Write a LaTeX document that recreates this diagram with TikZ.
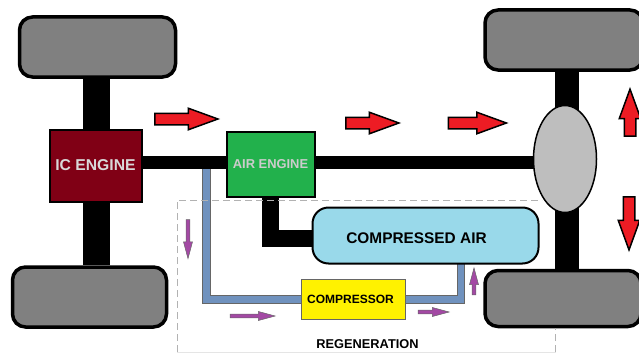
\documentclass[tikz,border=0pt]{standalone}
\usepackage{fontspec}
\setmainfont{Liberation Sans}
\usetikzlibrary{arrows,positioning,backgrounds,shapes.geometric,shapes.arrows}
\definecolor{wheelgray}{RGB}{128,128,128}
\definecolor{hubgray}{RGB}{190,190,190}
\definecolor{icred}{RGB}{128,0,21}
\definecolor{airgreen}{RGB}{34,177,76}
\definecolor{tankblue}{RGB}{153,217,234}
\definecolor{pipeblue}{RGB}{112,146,190}
\definecolor{flowred}{RGB}{237,28,36}
\definecolor{flowpurple}{RGB}{163,73,164}

\begin{document}
\begin{tikzpicture}[
    node distance=100pt,
    font=\bfseries,
    wheel/.style={
		rectangle,
		rounded corners=13pt,
		draw=black,
		line width=3.5pt,
		fill=wheelgray,
		minimum width=#1,
		minimum height=60pt
	},
	engine/.style={
		rectangle,
		draw=black,
		line width=2pt,
		text centered
	},
	tank/.style={
		rectangle,
		rounded corners=16pt,
		draw=black,
		line width=2pt,
		fill=tankblue,
		minimum width=226pt,
		minimum height=56pt
	},
	hub/.style={
		ellipse,
		draw=black,
		line width=1.5pt,
		fill=hubgray,
		minimum width=63pt,
		minimum height=107pt
	},
	redarrow/.style={
		single arrow,
		draw=black,
		line width=1.5pt,
		fill=flowred,
		inner sep=5pt,
		minimum width=20pt,
		single arrow head extend=5pt,
		single arrow tip angle=40
	},
	purplearrow/.style={
		single arrow,
		draw=black!60,
		line width=0.5pt,
		fill=flowpurple,
		inner sep=1.7pt,
		minimum width=9pt,
		single arrow head extend=2.5pt,
		single arrow tip angle=30
	},
	shaft/.style={
		draw=black,
		line width=#1
	},
	pipe/.style={
		draw=black!60,
		line width=1pt,
		double=pipeblue,
		double distance=6.5pt
	},
	regenbox/.style={
		draw=black!30,
		dash pattern=on 7pt off 4pt,
		line width=0.6pt
	}
  ]

 \useasboundingbox (0pt,0pt) rectangle (639pt,-353pt);

 % the engines
 \node [engine, fill=icred, text=black!15, font=\bfseries\fontsize{15.7}{18}\selectfont, minimum width=92pt, minimum height=72pt] (icengine) at (95.5pt,-165.5pt) {IC ENGINE};
 \node [engine, right of=icengine, xshift=75pt, yshift=1.5pt, fill=airgreen, text=black!20, font=\bfseries\fontsize{12.9}{15}\selectfont, minimum width=88pt, minimum height=65pt] (airengine) {AIR ENGINE};
 \node [hub, right of=airengine, xshift=194.5pt, yshift=5pt] (differential) {};

 % the wheels
 \node [wheel=156pt, above of=icengine, xshift=2pt, yshift=18.5pt] (wheelfl) {};
 \node [wheel=154pt, below of=icengine, xshift=-6pt, yshift=-31.5pt] (wheelrl) {};
 \node [wheel=158pt, above of=differential, xshift=-1pt, yshift=19pt] (wheelfr) {};
 \node [wheel=156pt, below of=differential, xshift=-2pt, yshift=-39.5pt, minimum height=56pt] (wheelrr) {};

 % the regeneration loop
 \node [tank, below of=airengine, xshift=155pt, yshift=28.5pt] (airtank) {};
 \node [right of=airtank, xshift=-109pt, yshift=-3pt, font=\bfseries\fontsize{15.4}{18}\selectfont] (tanklabel) {COMPRESSED AIR};
 \node [rectangle, draw=black!60, line width=1pt, fill=yellow, below of=airtank, xshift=-72pt, yshift=36pt, minimum width=104pt, minimum height=40pt] (compressor) {};
 \node [right of=compressor, xshift=-103pt, font=\bfseries\fontsize{12}{14}\selectfont] (compressorlabel) {COMPRESSOR};
 \node [below of=compressor, xshift=14pt, yshift=55.5pt, font=\bfseries\fontsize{12.8}{15}\selectfont] (regentext) {REGENERATION};

 % // The shafts
 \coordinate (axleleft) at (96.5pt,-165.5pt);
 \coordinate (axleright) at (567pt,-159pt);
 \coordinate (axlemain) at (142pt,-162.5pt);
 \coordinate (pipetop) at (206.5pt,-169pt);
 \coordinate (pipeoutlet) at (461pt,-263pt);
 \coordinate (tankbend) at (270.5pt,-238pt);
 \begin{scope}[on background layer]
 \draw [shaft=27pt] (axleleft |- wheelfl.south) -- (axleleft |- wheelrl.north);
 \draw [shaft=24pt] (axleright |- wheelfr.south) -- (axleright |- wheelrr.north);
 \draw [shaft=13pt] (axlemain) -- (axlemain -| differential.center);
 \draw [shaft=17pt] (airengine.south) -- (tankbend) -- (tankbend -| airtank.west);
 \draw [pipe] (pipetop) |- (compressor.west);
 \draw [pipe] (compressor.east) -| (pipeoutlet);
 \end{scope}

 % red arrows
 \node [redarrow, minimum height=63pt, right of=icengine, xshift=-17pt, yshift=46.5pt] (flow1) {};
 \node [redarrow, minimum height=53pt, right of=airengine, xshift=-6pt, yshift=41pt] (flow2) {};
 \node [redarrow, minimum height=58pt, right of=flow2, xshift=5pt] (flow3) {};
 \node [redarrow, minimum height=47pt, shape border rotate=90, right of=differential, xshift=-35pt, yshift=38.5pt] (flowup) {};
 \node [redarrow, minimum height=53pt, shape border rotate=270, right of=differential, xshift=-36pt, yshift=-56.5pt] (flowdown) {};

 % purple arrows
 \node [purplearrow, minimum height=39pt, shape border rotate=270, left of=airtank, xshift=-137.5pt, yshift=0pt] (regen1) {};
 \node [purplearrow, minimum height=45pt, left of=compressor, xshift=-4.5pt, yshift=-16.5pt] (regen2) {};
 \node [purplearrow, minimum height=31pt, right of=compressor, xshift=-23.5pt, yshift=-12.5pt] (regen3) {};
 \node [purplearrow, minimum height=27pt, shape border rotate=90, right of=compressor, xshift=20.5pt, yshift=14.5pt] (regen4) {};

 % // The dashed frame
 \coordinate (framebl) at (177pt,-352pt);
 \coordinate (framebr) at (555.5pt,-352pt);
 \coordinate (frametr) at (542pt,-200pt);
 \draw [regenbox] (framebl) |- (frametr);
 \draw [regenbox] (framebr) -- (framebr |- wheelrr.south);
 \draw [draw=black!10, line width=0.5pt] (framebl) -- (framebr);

\end{tikzpicture}
\end{document}
